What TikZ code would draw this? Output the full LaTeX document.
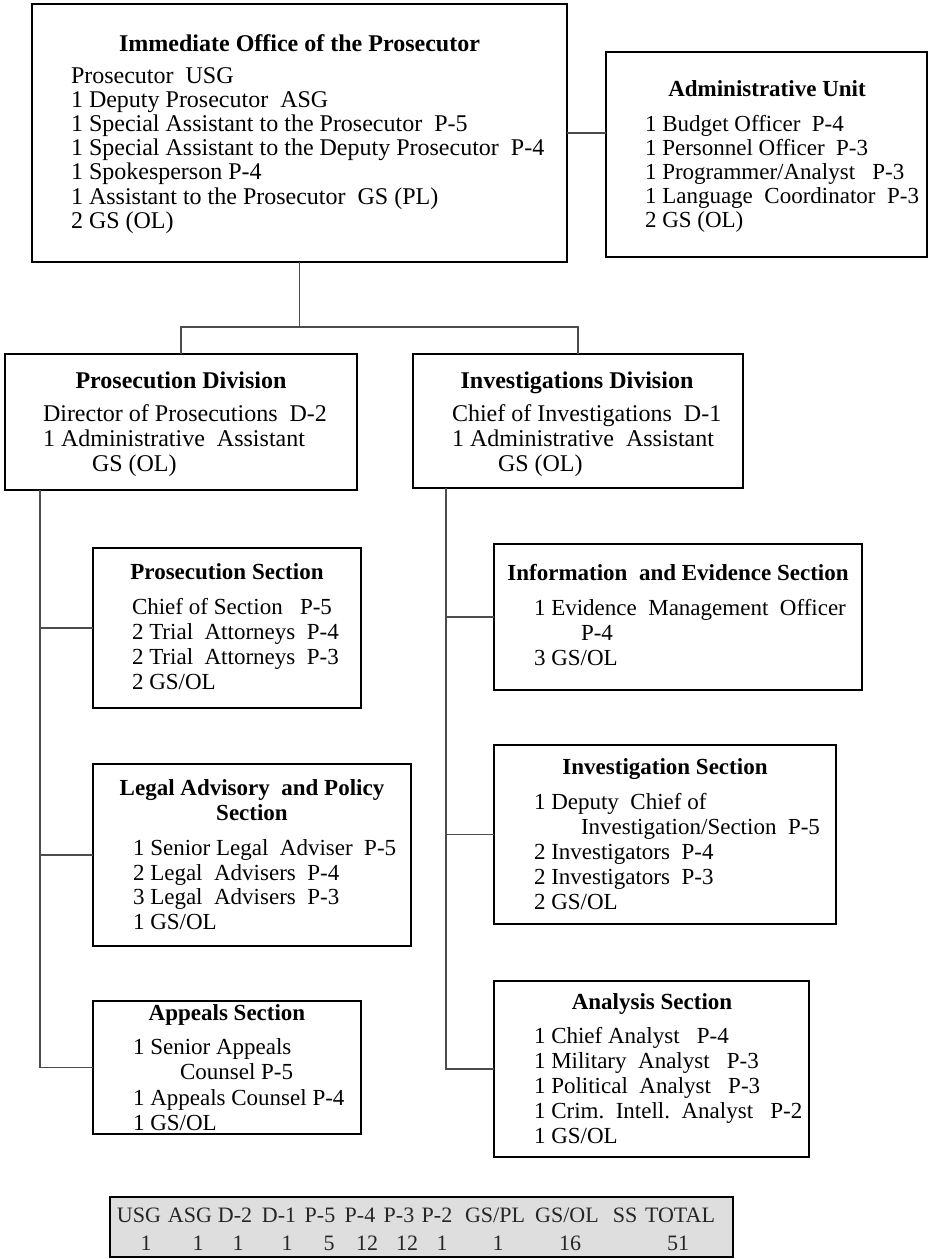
\documentclass[tikz,border=0pt]{standalone}
\usepackage{fontspec}
\setmainfont{Liberation Serif}
\newcommand\blines[5]{\foreach \t [count=\i] in {#5} {\node[txt] (#1\i) at (#2,{#3+(\i-1)*#4}) {\t};}}
\tikzset{
  box/.style={draw=black, line width=1.6pt, inner sep=0pt, outer sep=0pt, anchor=north west},
  conn/.style={draw=black!70, line width=1.1pt},
  txt/.style={anchor=base west, inner sep=0pt, outer sep=0pt},
  ttl/.style={anchor=base, inner sep=0pt, outer sep=0pt, font=\fontsize{23}{25}\selectfont\bfseries},
  bigttl/.style={ttl, font=\fontsize{24}{26}\selectfont\bfseries},
  tbl/.style={draw=black, line width=1.3pt, fill=black!13, inner sep=0pt, outer sep=0pt, anchor=north west},
  thd/.style={anchor=base, inner sep=0pt, text=black!85, font=\fontsize{22}{24}\selectfont},
}
\begin{document}
\frenchspacing
\begin{tikzpicture}[x=1pt,y=-1pt]
\useasboundingbox (0,0) rectangle (929,1259);
% boxes
\node[box, minimum width=535pt, minimum height=258pt] (office) at (32,4) {};
\node[box, minimum width=321pt, minimum height=205pt] (admin) at (606,52) {};
\node[box, minimum width=352pt, minimum height=136pt] (prosdiv) at (5,354) {};
\node[box, minimum width=330pt, minimum height=134pt] (invdiv) at (413,354) {};
\node[box, minimum width=268pt, minimum height=160pt] (prossec) at (93,548) {};
\node[box, minimum width=318pt, minimum height=182pt] (legal) at (93,764) {};
\node[box, minimum width=268pt, minimum height=133pt] (appeals) at (93,1001) {};
\node[box, minimum width=368pt, minimum height=146pt] (info) at (494,544) {};
\node[box, minimum width=342pt, minimum height=179pt] (invsec) at (494,745) {};
\node[box, minimum width=315pt, minimum height=176pt] (analysis) at (494,981) {};
% connectors
\draw[conn] (office.east) -- (admin.west |- office.east);
\draw[conn] (office.south) -- ++(0,65) coordinate (hub);
\draw[conn] (prosdiv.north) |- (hub) -| (invdiv.north);
\coordinate (ltop) at ([xshift=35pt]prosdiv.south west);
\coordinate (rtop) at ([xshift=33pt]invdiv.south west);
\draw[conn] (ltop) |- (appeals.west);
\draw[conn] (prossec.west) -- (prossec.west -| ltop);
\draw[conn] (legal.west) -- (legal.west -| ltop);
\draw[conn] (rtop) |- (analysis.west);
\draw[conn] (info.west) -- (info.west -| rtop);
\draw[conn] (invsec.west) -- (invsec.west -| rtop);
% office
\node[bigttl] (officeT) at (299.5,51) {Immediate Office of the Prosecutor};
\begin{scope}[nodes={font=\fontsize{24}{26}\selectfont}]
\blines{of}{71}{83}{24.2}{Prosecutor\ \ USG, 1 Deputy Prosecutor\ \ ASG, 1 Special Assistant to the Prosecutor\ \ P-5, 1 Special Assistant to the Deputy Prosecutor\ \ P-4, 1 Spokesperson P-4, 1 Assistant to the Prosecutor\ \ GS (PL), 2 GS (OL)}
\end{scope}
% admin
\node[ttl] (adminT) at (767,96) {Administrative Unit};
\begin{scope}[nodes={font=\fontsize{23}{25}\selectfont}]
\blines{ad}{645}{131}{24.2}{1 Budget Officer\ \ P-4, 1 Personnel Officer\ \ P-3, 1 Programmer/Analyst\ \ \ P-3, 1 Language\ \ Coordinator\ \ P-3, 2 GS (OL)}
\end{scope}
% divisions
\node[bigttl] (prosdivT) at (181,388) {Prosecution Division};
\node[bigttl] (invdivT) at (577,388) {Investigations Division};
\begin{scope}[nodes={font=\fontsize{24}{26}\selectfont}]
\blines{pd}{43}{421}{25}{Director of Prosecutions\ \ D-2, 1 Administrative\ \ Assistant, \hspace*{49pt}GS (OL)}
\blines{id}{452}{421}{25}{Chief of Investigations\ \ D-1, 1 Administrative\ \ Assistant, \hspace*{46pt}GS (OL)}
\end{scope}
% sections
\node[ttl] (prossecT) at (227,579.5) {Prosecution Section};
\node[ttl] (legalT1) at (252,795.5) {Legal Advisory\ \ and Policy};
\node[ttl] (legalT2) at (252,820.5) {Section};
\node[ttl] (appealsT) at (227,1020.5) {Appeals Section};
\node[ttl] (infoT) at (678,580.5) {Information\ \ and Evidence Section};
\node[ttl] (invsecT) at (665,774.5) {Investigation Section};
\node[ttl] (analysisT) at (652,1009.5) {Analysis Section};
\begin{scope}[nodes={font=\fontsize{23}{25}\selectfont}]
\blines{ps}{132}{614.5}{25}{Chief of Section\ \ \ P-5, 2 Trial\ \ Attorneys\ \ P-4, 2 Trial\ \ Attorneys\ \ P-3, 2 GS/OL}
\blines{lg}{133}{855.5}{24.7}{1 Senior Legal\ \ Adviser\ \ P-5, 2 Legal\ \ Advisers\ \ P-4, 3 Legal\ \ Advisers\ \ P-3, 1 GS/OL}
\blines{ap}{133}{1054.5}{25.3}{1 Senior Appeals, \hspace*{47pt}Counsel P-5, 1 Appeals Counsel P-4, 1 GS/OL}
\blines{ie}{534}{615.5}{25}{1 Evidence\ \ Management\ \ Officer, \hspace*{47pt}P-4, 3 GS/OL}
\blines{is}{534}{809.5}{25}{1 Deputy\ \ Chief of, \hspace*{47pt}Investigation/Section\ \ P-5, 2 Investigators\ \ P-4, 2 Investigators\ \ P-3, 2 GS/OL}
\blines{an}{534}{1043.5}{25}{1 Chief Analyst\ \ \ P-4, 1 Military\ \ Analyst\ \ \ P-3, 1 Political\ \ Analyst\ \ \ P-3, 1 Crim.\ \ Intell.\ \ Analyst\ \ \ P-2, 1 GS/OL}
\end{scope}
% table
\node[tbl, minimum width=623pt, minimum height=60pt] (table) at (110,1197) {};
\foreach \cx/\w [count=\i] in {139/USG, 190/ASG, 235/D-2, 279/D-1, 320/P-5, 360/P-4, 399/P-3, 437/P-2, 495/{GS/PL}, 567/{GS/OL}, 625/SS, 680/TOTAL}
  \node[thd] (h\i) at (\cx,1222) {\w};
\foreach \cx/\w [count=\i] in {146/1, 198/1, 238/1, 287/1, 329/5, 367/12, 407/12, 442/1, 498/1, 570/16, 678/51}
  \node[thd] (v\i) at (\cx,1250) {\w};
\end{tikzpicture}
\end{document}
